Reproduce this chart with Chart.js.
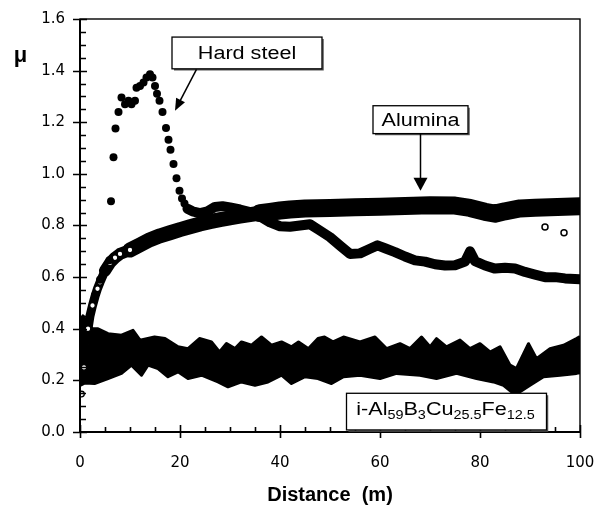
<!DOCTYPE html>
<html><head><meta charset="utf-8">
<script src="https://cdn.jsdelivr.net/npm/chart.js@4.4.1/dist/chart.umd.min.js"></script>
<style>html,body{margin:0;padding:0;background:#fff;}canvas{display:block;}</style>
</head><body>
<canvas id="c" width="600" height="510"></canvas>
<script>
// ---- data ----
const xTicks = [0, 20, 40, 60, 80, 100];
const yTicks = [0, 0.2, 0.4, 0.6, 0.8, 1.0, 1.2, 1.4, 1.6];

const hardSteelDist = [1.0,2.0,3.0,4.0,5.0,5.9,6.2,6.7,7.1,7.7,8.3,9.0,9.7,10.3,11.0,11.3,12.0,12.7,13.3,14.0,14.5,15.0,15.4,15.9,16.5,17.2,17.7,18.1,18.7,19.3,19.9,20.4,20.9,21.5,22.5,24,25.5,27,28.5,30,32,34,36,38,40,42,44,46,48,50,52,54,56,58,59.5,61,63,65,67,69,71,73,75,77,78,79,81,83,85,87,89,91,93,95,97,100];
const hardSteelMu   = [0.33,0.45,0.53,0.59,0.63,0.665,0.894,1.064,1.176,1.240,1.296,1.270,1.283,1.270,1.283,1.334,1.340,1.354,1.373,1.386,1.373,1.340,1.310,1.283,1.240,1.178,1.132,1.093,1.038,0.983,0.935,0.905,0.885,0.865,0.855,0.848,0.855,0.872,0.875,0.870,0.862,0.852,0.835,0.812,0.797,0.795,0.800,0.805,0.780,0.755,0.722,0.690,0.692,0.710,0.723,0.712,0.697,0.680,0.665,0.660,0.650,0.645,0.646,0.660,0.700,0.662,0.645,0.633,0.636,0.633,0.620,0.610,0.600,0.600,0.595,0.592];

const aluminaDist = [0.3,0.8,1.2,1.6,2.0,2.5,3.0,3.5,4.0,5.0,6.0,7.0,8.0,10,12,14,16,18,20,22,24,26,28,30,32,34,36,38,40,42,45,50,55,60,65,70,75,78,81,83,85,88,91,94,97,100];
const aluminaMu   = [0.147,0.25,0.33,0.40,0.45,0.49,0.525,0.555,0.58,0.625,0.655,0.675,0.69,0.705,0.725,0.745,0.76,0.772,0.784,0.795,0.806,0.815,0.823,0.830,0.836,0.842,0.848,0.853,0.858,0.862,0.866,0.868,0.871,0.873,0.876,0.878,0.877,0.868,0.853,0.846,0.855,0.866,0.869,0.871,0.873,0.875];
const aluminaStrayDist = [93, 96.8];
const aluminaStrayMu   = [0.794, 0.772];

// i-Al59B3Cu25.5Fe12.5: upper and lower edge of the dense noisy band
const quasiTopDist = [0,0.6,1.5,2.5,3.6,5.6,8.3,10.6,12,14.9,17,19.6,21.6,23.9,26.3,27.9,29.3,31,32.3,34.3,36.3,38.3,40.3,42.3,43.7,45.7,47.6,48.9,50.6,52.7,56,59,61.3,64,66,68.3,70,71.3,73.3,76,78,80,82,84,86,87.3,89.7,91.3,94,96.7,99.3,100];
const quasiTopMu   = [0.42,0.45,0.42,0.40,0.40,0.381,0.375,0.394,0.356,0.368,0.362,0.33,0.323,0.362,0.349,0.31,0.343,0.323,0.349,0.336,0.368,0.336,0.349,0.33,0.349,0.323,0.362,0.368,0.349,0.368,0.349,0.368,0.323,0.342,0.323,0.368,0.33,0.362,0.33,0.356,0.323,0.342,0.31,0.33,0.259,0.246,0.342,0.284,0.323,0.336,0.362,0.37];
const quasiLowDist = [0,1,2.9,5.6,8.3,10.3,12.3,13.6,15.6,17.6,19.6,21.6,24.3,27.6,29.6,32.3,35,37.6,40.3,42.3,45,47.6,50.3,52.7,56,60,63.3,68,71.3,75.3,79.3,82.7,84.7,86.3,88,90,92.7,96,99.3,100];
const quasiLowMu   = [0.18,0.19,0.188,0.207,0.227,0.259,0.22,0.259,0.246,0.214,0.233,0.207,0.22,0.194,0.175,0.194,0.181,0.194,0.22,0.188,0.214,0.207,0.188,0.214,0.22,0.207,0.227,0.22,0.207,0.227,0.207,0.194,0.181,0.156,0.156,0.181,0.214,0.22,0.227,0.23];

const pts = (xs, ys) => xs.map((x, i) => ({x: x, y: ys[i]}));

// ---- helpers for drawing annotations ----
function drawParts(ctx, parts, cx, baseY, sx) {
  let w = 0;
  parts.forEach(p => { ctx.font = p.size + 'px "Liberation Sans", Arial, sans-serif'; p.w = ctx.measureText(p.t).width; w += p.w; });
  ctx.save();
  ctx.translate(cx, baseY);
  ctx.scale(sx, 1);
  ctx.fillStyle = '#000';
  ctx.textBaseline = 'alphabetic';
  ctx.textAlign = 'left';
  let xx = -w / 2;
  parts.forEach(p => { ctx.font = p.size + 'px "Liberation Sans", Arial, sans-serif'; ctx.fillText(p.t, xx, p.dy || 0); xx += p.w; });
  ctx.restore();
}
function box(ctx, x0, y0, x1, y1) {
  ctx.save();
  ctx.fillStyle = '#fff';
  ctx.fillRect(x0, y0, x1 - x0, y1 - y0);
  ctx.strokeStyle = '#555';
  ctx.lineWidth = 1.5;
  ctx.beginPath(); ctx.moveTo(x0 + 2, y1 + 1); ctx.lineTo(x1 + 1, y1 + 1); ctx.lineTo(x1 + 1, y0 + 2); ctx.stroke();
  ctx.strokeStyle = '#000';
  ctx.lineWidth = 1.3;
  ctx.strokeRect(x0, y0, x1 - x0, y1 - y0);
  ctx.restore();
}
function arrow(ctx, x0, y0, x1, y1, len, half) {
  const a = Math.atan2(y1 - y0, x1 - x0);
  ctx.save();
  ctx.strokeStyle = '#000'; ctx.fillStyle = '#000'; ctx.lineWidth = 1.5;
  ctx.beginPath(); ctx.moveTo(x0, y0);
  ctx.lineTo(x1 - Math.cos(a) * len * 0.8, y1 - Math.sin(a) * len * 0.8); ctx.stroke();
  ctx.beginPath();
  ctx.moveTo(x1, y1);
  ctx.lineTo(x1 - Math.cos(a) * len + Math.sin(a) * half, y1 - Math.sin(a) * len - Math.cos(a) * half);
  ctx.lineTo(x1 - Math.cos(a) * len - Math.sin(a) * half, y1 - Math.sin(a) * len + Math.cos(a) * half);
  ctx.closePath(); ctx.fill();
  ctx.restore();
}

const framePlugin = {
  id: 'frameTicks',
  afterDatasetsDraw(chart) {
    const {ctx, chartArea: a, scales: {x, y}} = chart;
    ctx.save();
    ctx.strokeStyle = '#000';
    ctx.lineWidth = 1.4;
    ctx.strokeRect(a.left, a.top, a.right - a.left, a.bottom - a.top);
    ctx.lineWidth = 2;
    ctx.beginPath();
    ctx.moveTo(a.left, a.top); ctx.lineTo(a.left, a.bottom); ctx.lineTo(a.right, a.bottom);
    ctx.stroke();
    ctx.lineWidth = 1.6;
    ctx.beginPath();
    for (let v = 0; v <= 1.6001; v += 0.05) {
      const py = Math.round(y.getPixelForValue(v)) + 0.5;
      const major = Math.abs(v / 0.2 - Math.round(v / 0.2)) < 1e-6;
      ctx.moveTo(a.left - (major ? 7 : 0), py); ctx.lineTo(a.left + (major ? 7 : 6), py);
    }
    for (let v = 0; v <= 100.001; v += 5) {
      const px = Math.round(x.getPixelForValue(v)) + 0.5;
      const major = v % 20 === 0;
      ctx.moveTo(px, a.bottom + (major ? 6 : 0)); ctx.lineTo(px, a.bottom - (major ? 7 : 5));
    }
    ctx.stroke();
    ctx.restore();
  },
  afterDraw(chart) {
    const {ctx, scales: {x, y}} = chart;
    const X = v => x.getPixelForValue(v), Y = v => y.getPixelForValue(v);
    // axis symbol
    ctx.save();
    ctx.fillStyle = '#000';
    ctx.font = 'bold 22px "Liberation Sans", Arial, sans-serif';
    ctx.textAlign = 'center'; ctx.textBaseline = 'alphabetic';
    ctx.fillText('\u03bc', 20.5, 62);
    ctx.restore();
    // Hard steel
    box(ctx, X(18.4), Y(1.530), X(48.4), Y(1.407));
    drawParts(ctx, [{t: 'Hard steel', size: 18}], X(33.4), Y(1.468) + 6.4, 1.2);
    arrow(ctx, X(23.3), Y(1.405), X(19.0), Y(1.245), 12, 5);
    // Alumina
    box(ctx, X(58.6), Y(1.264), X(77.6), Y(1.156));
    drawParts(ctx, [{t: 'Alumina', size: 18}], X(68.1), Y(1.210) + 6.4, 1.2);
    arrow(ctx, X(68.1), Y(1.156), X(68.1), Y(0.935), 13, 7);
    // quasicrystal
    box(ctx, X(53.3), Y(0.150), X(93.3), Y(0.008));
    drawParts(ctx, [
      {t: 'i-Al', size: 18}, {t: '59', size: 12, dy: 4}, {t: 'B', size: 18}, {t: '3', size: 12, dy: 4},
      {t: 'Cu', size: 18}, {t: '25.5', size: 12, dy: 4}, {t: 'Fe', size: 18}, {t: '12.5', size: 12, dy: 4}
    ], X(73.1), Y(0.065), 1.2);
  }
};

const tickFont = {family: '"DejaVu Sans", Arial, sans-serif', size: 15};

new Chart(document.getElementById('c'), {
  type: 'scatter',
  data: {
    datasets: [
      {
        label: 'Hard steel',
        data: pts(hardSteelDist, hardSteelMu),
        showLine: true,
        borderColor: '#000',
        borderWidth: 10,
        borderCapStyle: 'round',
        borderJoinStyle: 'round',
        segment: { borderColor: c => (c.p0.parsed.x < 21 ? 'rgba(0,0,0,0)' : '#000') },
        pointRadius: 4,
        pointBorderWidth: 0,
        pointBackgroundColor: '#000',
        clip: 0,
        order: 1
      },
      {
        label: 'Alumina',
        data: pts(aluminaDist, aluminaMu),
        showLine: true,
        borderColor: '#000',
        borderWidth: 18,
        borderCapStyle: 'round',
        borderJoinStyle: 'round',
        segment: {
          borderColor: c => (c.p0.parsed.y < 0.2 ? 'rgba(0,0,0,0)' : '#000'),
          borderWidth: c => (c.p0.parsed.x < 5 ? 9 : (c.p0.parsed.x < 10 ? 12 : (c.p0.parsed.x < 36 ? 15 : 18)))
        },
        pointRadius: c => (c.parsed && c.parsed.x < 12 ? 2.8 : 0),
        pointBorderWidth: 1.3,
        pointBorderColor: '#000',
        pointBackgroundColor: '#fff',
        clip: 0,
        order: 2
      },
      {
        label: 'Alumina (stray)',
        data: pts(aluminaStrayDist, aluminaStrayMu),
        showLine: false,
        pointRadius: 3,
        pointBorderWidth: 1.5,
        pointBorderColor: '#000',
        pointBackgroundColor: '#fff',
        order: 2
      },
      {
        label: 'i-AlBCuFe upper',
        data: pts(quasiTopDist, quasiTopMu),
        showLine: true,
        borderColor: '#000',
        borderWidth: 3,
        borderJoinStyle: 'round',
        backgroundColor: '#000',
        fill: '+1',
        pointRadius: 0,
        clip: 0,
        order: 3
      },
      {
        label: 'i-AlBCuFe lower',
        data: pts(quasiLowDist, quasiLowMu),
        showLine: true,
        borderColor: '#000',
        borderWidth: 3,
        borderJoinStyle: 'round',
        pointRadius: 0,
        clip: 0,
        order: 3
      }
    ]
  },
  options: {
    responsive: false,
    animation: false,
    devicePixelRatio: 1,
    layout: { padding: { top: 19, right: 20, left: 0, bottom: 0 } },
    plugins: { legend: { display: false }, tooltip: { enabled: false } },
    scales: {
      x: {
        type: 'linear', min: 0, max: 100,
        afterBuildTicks: s => { s.ticks = xTicks.map(v => ({value: v})); },
        afterFit: s => { s.height = 78; s.paddingLeft = 0; s.paddingRight = 0; },
        grid: { display: true, drawOnChartArea: false, drawTicks: false, color: 'rgba(0,0,0,0)' },
        border: { display: false },
        ticks: { color: '#000', font: tickFont, padding: 22, maxRotation: 0, callback: v => String(v) },
        title: { display: true, text: 'Distance  (m)', color: '#000',
                 font: { family: '"Liberation Sans", Arial, sans-serif', size: 20, weight: 'bold' },
                 padding: { top: 0, bottom: 3 } }
      },
      y: {
        type: 'linear', min: 0, max: 1.6,
        afterBuildTicks: s => { s.ticks = yTicks.map(v => ({value: v})); },
        afterFit: s => { s.width = 80; s.paddingTop = 0; s.paddingBottom = 0; },
        grid: { display: true, drawOnChartArea: false, drawTicks: false, color: 'rgba(0,0,0,0)' },
        border: { display: false },
        ticks: { color: '#000', font: tickFont, padding: 15, callback: v => Number(v).toFixed(1) }
      }
    }
  },
  plugins: [framePlugin]
});
</script>
</body></html>
